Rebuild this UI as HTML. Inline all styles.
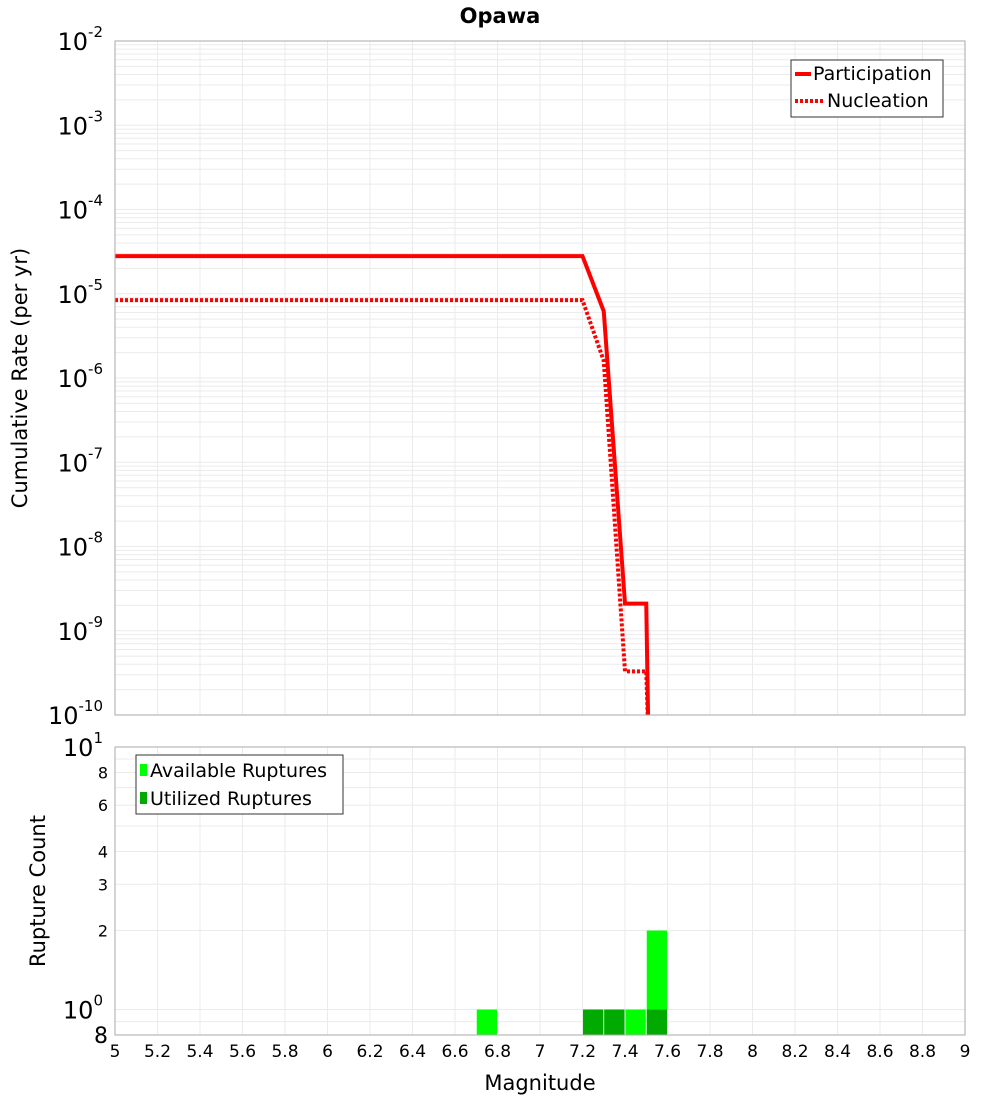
<!DOCTYPE html>
<html><head><meta charset="utf-8"><style>
body{margin:0;background:#fff;font-family:"Liberation Sans","DejaVu Sans",sans-serif}
svg text{font-family:"DejaVu Sans","Liberation Sans",sans-serif}
</style></head><body>
<svg id="chart" width="1000" height="1100" xmlns="http://www.w3.org/2000/svg">
<text x="500" y="23" text-anchor="middle" font-size="21" font-weight="bold">Opawa</text>
<g id="gtop"></g>
<g id="gbot"></g>
<text transform="translate(27,378) rotate(-90)" text-anchor="middle" font-size="21">Cumulative Rate (per yr)</text>
<text transform="translate(45,891) rotate(-90)" text-anchor="middle" font-size="21">Rupture Count</text>
<text x="540" y="1090" text-anchor="middle" font-size="21">Magnitude</text>
<g id="legtop">
<rect x="791" y="60" width="152" height="57" fill="#fff" stroke="#333"/>
<line x1="795" y1="74" x2="811" y2="74" stroke="#f00" stroke-width="4"/>
<text x="813" y="80" font-size="19">Participation</text>
<line x1="795" y1="101" x2="823" y2="101" stroke="#f00" stroke-width="4" stroke-dasharray="3,2"/>
<text x="827" y="107" font-size="19">Nucleation</text>
</g>
<g id="legbot">
<rect x="136" y="755" width="207" height="59" fill="#fff" stroke="#333"/>
<rect x="140" y="764" width="7" height="12" fill="#00ff00"/>
<text x="150" y="777" font-size="19">Available Ruptures</text>
<rect x="140" y="792" width="7" height="12" fill="#00aa00"/>
<text x="150" y="805" font-size="19">Utilized Ruptures</text>
</g>
</svg>
<script>
const partMag=[5.0,7.2,7.3,7.4,7.5,7.51];
const partRate=[2.8e-5,2.8e-5,6.2e-6,2.1e-9,2.1e-9,1e-11];
const nuclMag=[5.0,7.2,7.3,7.4,7.5,7.51];
const nuclRate=[8.4e-6,8.4e-6,1.6e-6,3.3e-10,3.3e-10,1e-11];
const binMag=[6.75,7.25,7.35,7.45,7.55];
const availCount=[1,1,1,1,2];
const utilCount=[0,1,1,0,1];
const xTicks=[5,5.2,5.4,5.6,5.8,6,6.2,6.4,6.6,6.8,7,7.2,7.4,7.6,7.8,8,8.2,8.4,8.6,8.8,9];
const topExp=[-2,-3,-4,-5,-6,-7,-8,-9,-10];
const botTicks=[8,6,4,3,2];

const NS="http://www.w3.org/2000/svg";
const L=115,R=965,T1=41,B1=715,T2=747,B2=1035;
const xs=m=>L+(m-5)/4*(R-L);
const y1=v=>T1+(-2-Math.log10(v))/8*(B1-T1);
const lmin=Math.log10(0.8),lmax=1;
const y2=v=>B2-(Math.log10(v)-lmin)/(lmax-lmin)*(B2-T2);
function mk(p,tag,a){const e=document.createElementNS(NS,tag);for(const k in a)e.setAttribute(k,a[k]);p.appendChild(e);return e;}
const gTop=document.getElementById('gtop'),gBot=document.getElementById('gbot');
mk(gTop,'rect',{x:L,y:T1,width:R-L,height:B1-T1,fill:'#fff'});
mk(gBot,'rect',{x:L,y:T2,width:R-L,height:B2-T2,fill:'#fff'});
for(let d=-10;d<-2;d++)for(let k=1;k<10;k++){const yy=y1(k*Math.pow(10,d));const g=mk(gTop,'line',{x1:L,x2:R,y1:yy,y2:yy,stroke:'#ebebeb','stroke-width':1});

}
for(let k=1;k<=10;k++){const yy=y2(k);if(yy>=T2&&yy<=B2)mk(gBot,'line',{x1:L,x2:R,y1:yy,y2:yy,stroke:'#ebebeb'});}
mk(gBot,'line',{x1:L,x2:R,y1:y2(0.9),y2:y2(0.9),stroke:'#ebebeb'});
xTicks.forEach(t=>{const xx=xs(t);mk(gTop,'line',{x1:xx,x2:xx,y1:T1,y2:B1,stroke:'#ebebeb'});mk(gBot,'line',{x1:xx,x2:xx,y1:T2,y2:B2,stroke:'#ebebeb'});
const tx=mk(gBot,'text',{x:xx,y:B2+22,'text-anchor':'middle','font-size':17});tx.textContent=String(t);

});
topExp.forEach(e=>{const yy=y1(Math.pow(10,e));const t=mk(gTop,'text',{x:103,y:yy+9,'text-anchor':'end','font-size':24});
t.textContent='10';const s=mk(t,'tspan',{dy:-13,'font-size':15});s.textContent=String(e);

});
function path(ms,vs){return ms.map((m,i)=>(i?'L':'M')+xs(m)+','+Math.min(y1(vs[i]),B1+20)).join(' ');}
const cp=mk(gTop,'clipPath',{id:'c1'});mk(cp,'rect',{x:L,y:T1,width:R-L,height:B1-T1});
const pn=mk(gTop,'path',{d:path(nuclMag,nuclRate),fill:'none',stroke:'#f00','stroke-width':4,'stroke-dasharray':'3,2','clip-path':'url(#c1)'});


const pp=mk(gTop,'path',{d:path(partMag,partRate),fill:'none',stroke:'#f00','stroke-width':4,'clip-path':'url(#c1)'});


mk(gTop,'rect',{x:L,y:T1,width:R-L,height:B1-T1,fill:'none',stroke:'#aaa'});
const bw=(R-L)/40;
binMag.forEach((m,i)=>{const x0=xs(m)-bw/2+0.5;
if(availCount[i]>0){const r=mk(gBot,'rect',{x:x0,y:y2(availCount[i]),width:bw-1,height:B2-y2(availCount[i]),fill:'#00ff00'});

}
if(utilCount[i]>0){const r=mk(gBot,'rect',{x:x0,y:y2(utilCount[i]),width:bw-1,height:B2-y2(utilCount[i]),fill:'#00aa00'});

}});
mk(gBot,'rect',{x:L,y:T2,width:R-L,height:B2-T2,fill:'none',stroke:'#aaa'});
botTicks.forEach(v=>{const t=mk(gBot,'text',{x:108,y:y2(v)+6,'text-anchor':'end','font-size':16});t.textContent=String(v);

});
[[10,'1'],[1,'0']].forEach(([v,e])=>{const t=mk(gBot,'text',{x:103,y:y2(v)+9,'text-anchor':'end','font-size':24});
t.textContent='10';const s=mk(t,'tspan',{dy:-13,'font-size':15});s.textContent=e;

});
const t8=mk(gBot,'text',{x:108,y:B2+8,'text-anchor':'end','font-size':22});t8.textContent='8';


document.getElementById('chart').appendChild(document.getElementById('legtop'));
document.getElementById('chart').appendChild(document.getElementById('legbot'));
</script>
</body></html>
